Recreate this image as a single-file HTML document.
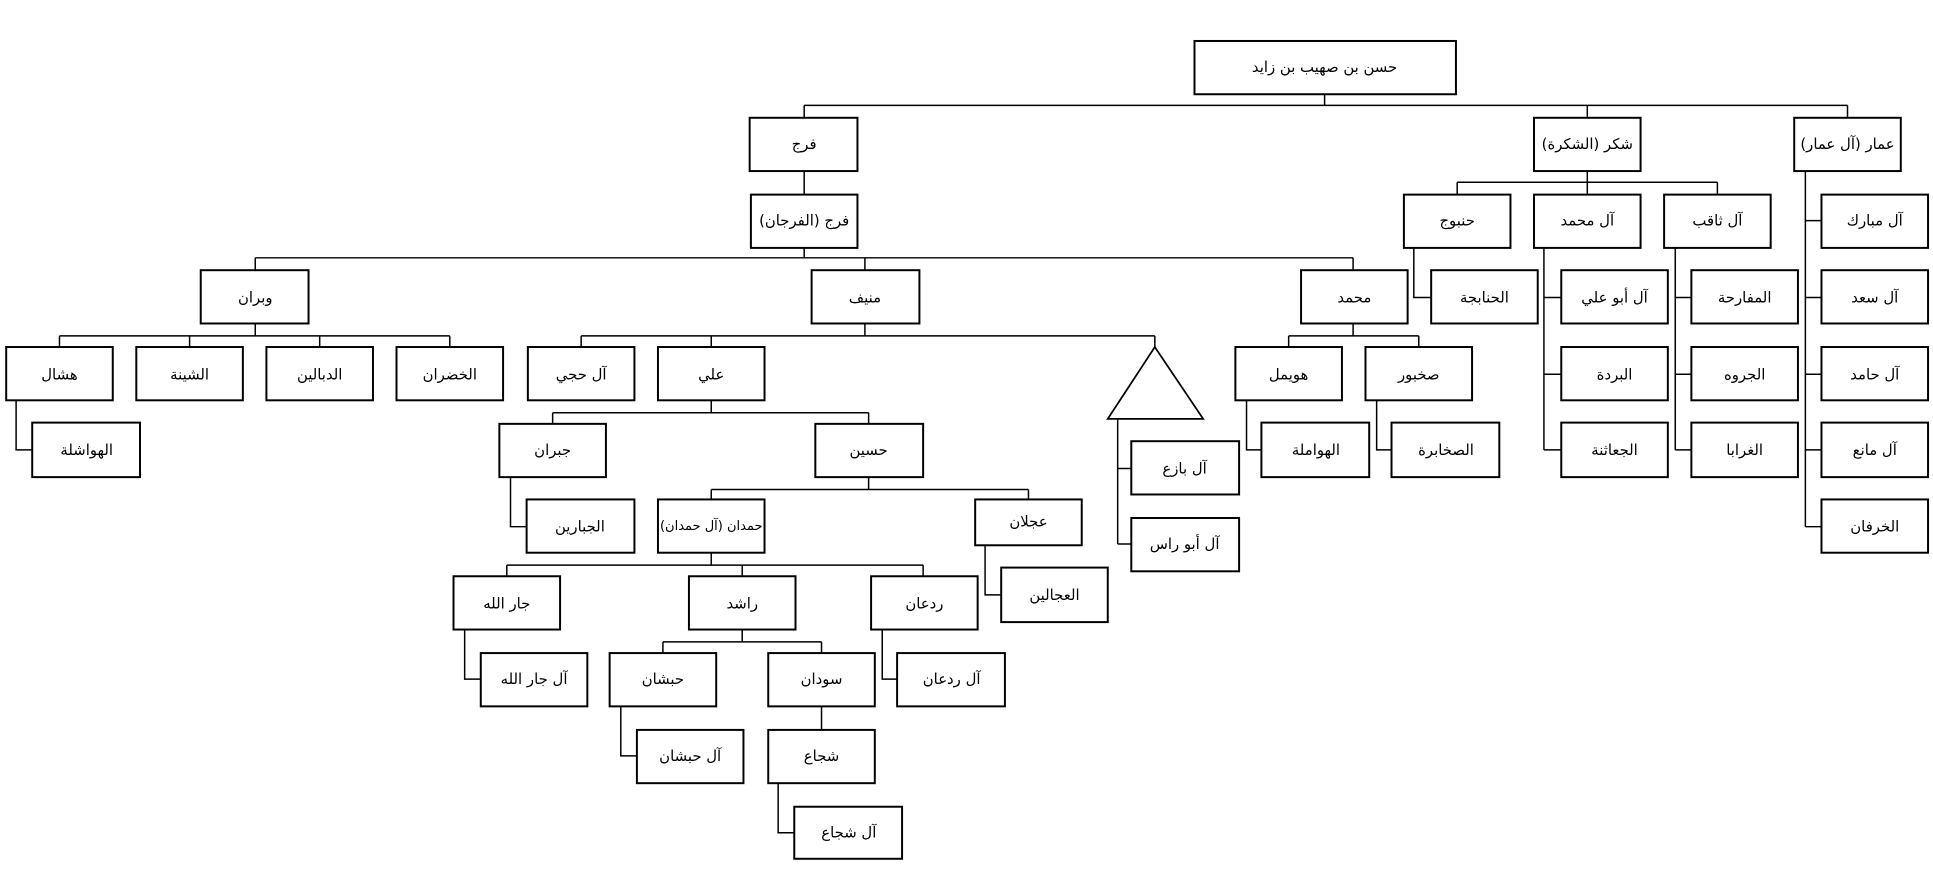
<!DOCTYPE html>
<html><head><meta charset="utf-8"><style>
html,body{margin:0;padding:0;background:#fff;}
svg{display:block}
text{font-family:"DejaVu Sans","Liberation Sans",sans-serif;font-size:12px;fill:#000;text-anchor:middle;dominant-baseline:central}
rect{fill:#fff;stroke:#000;stroke-width:1.6}
.l{stroke:#000;stroke-width:1.2;fill:none}
</style></head><body>
<svg width="1933" height="870" viewBox="0 0 1560 702" xmlns="http://www.w3.org/2000/svg">
<g class="l">
<path d="M1069 76V85M649 85H1491M649 85V95M1281 85V95M1491 85V95"/>
<path d="M649 138V157M649 200V208M206 208H1092M206 208V218M698 208V218M1092 208V218"/>
<path d="M206 261V271M48 271H363M48 271V280M153 271V280M258 271V280M363 271V280"/>
<path d="M13 323V363H26"/>
<path d="M698 261V271M469 271H932M469 271V280M574 271V280M932 271V280"/>
<path d="M902 338V439M902 378H913M902 439H913"/>
<path d="M574 323V333M446 333H701M446 333V342M701 333V342"/>
<path d="M412 385V425H425"/>
<path d="M701 385V395M574 395H830M574 395V403M830 395V403"/>
<path d="M795 440V480H808"/>
<path d="M574 446V456M409 456H745M409 456V465M599 456V465M745 456V465"/>
<path d="M375 508V548H388M712 508V548H724"/>
<path d="M599 508V518M535 518H663M535 518V527M663 518V527"/>
<path d="M501 570V610H514M663 570V589M628 632V672H641"/>
<path d="M1092 261V271M1040 271H1145M1040 271V280M1145 271V280"/>
<path d="M1006 323V363H1018M1111 323V363H1123"/>
<path d="M1281 138V147M1176 147H1386M1176 147V157M1281 147V157M1386 147V157"/>
<path d="M1141 200V240H1155"/>
<path d="M1246 200V363M1246 240H1260M1246 302H1260M1246 363H1260"/>
<path d="M1352 200V363M1352 240H1365M1352 302H1365M1352 363H1365"/>
<path d="M1457 138V425M1457 178H1470M1457 240H1470M1457 302H1470M1457 363H1470M1457 425H1470"/>
</g>
<polygon points="932,280 894,338 971,338" fill="#fff" stroke="#000" stroke-width="1.4"/>
<g>
<rect x="964" y="33" width="211" height="43"/><text x="1069" y="54">حسن بن صهيب بن زايد</text>
<rect x="605" y="95" width="87" height="43"/><text x="649" y="116">فرج</text>
<rect x="1238" y="95" width="86" height="43"/><text x="1281" y="116">شكر (الشكرة)</text>
<rect x="1448" y="95" width="86" height="43"/><text x="1491" y="116">عمار (آل عمار)</text>
<rect x="606" y="157" width="86" height="43"/><text x="649" y="178">فرج (الفرجان)</text>
<rect x="1133" y="157" width="86" height="43"/><text x="1176" y="178">حنبوج</text>
<rect x="1238" y="157" width="86" height="43"/><text x="1281" y="178">آل محمد</text>
<rect x="1343" y="157" width="86" height="43"/><text x="1386" y="178">آل ثاقب</text>
<rect x="1470" y="157" width="86" height="43"/><text x="1513" y="178">آل مبارك</text>
<rect x="162" y="218" width="87" height="43"/><text x="206" y="240">وبران</text>
<rect x="655" y="218" width="87" height="43"/><text x="698" y="240">منيف</text>
<rect x="1050" y="218" width="86" height="43"/><text x="1093" y="240">محمد</text>
<rect x="1155" y="218" width="86" height="43"/><text x="1198" y="240">الحنابجة</text>
<rect x="1260" y="218" width="86" height="43"/><text x="1303" y="240">آل أبو علي</text>
<rect x="1365" y="218" width="86" height="43"/><text x="1408" y="240">المفارحة</text>
<rect x="1470" y="218" width="86" height="43"/><text x="1513" y="240">آل سعد</text>
<rect x="5" y="280" width="86" height="43"/><text x="48" y="302">هشال</text>
<rect x="110" y="280" width="86" height="43"/><text x="153" y="302">الشينة</text>
<rect x="215" y="280" width="86" height="43"/><text x="258" y="302">الدبالين</text>
<rect x="320" y="280" width="86" height="43"/><text x="363" y="302">الخضران</text>
<rect x="426" y="280" width="86" height="43"/><text x="469" y="302">آل حجي</text>
<rect x="531" y="280" width="86" height="43"/><text x="574" y="302">علي</text>
<rect x="997" y="280" width="86" height="43"/><text x="1040" y="302">هويمل</text>
<rect x="1102" y="280" width="86" height="43"/><text x="1145" y="302">صخبور</text>
<rect x="1260" y="280" width="86" height="43"/><text x="1303" y="302">البردة</text>
<rect x="1365" y="280" width="86" height="43"/><text x="1408" y="302">الجروه</text>
<rect x="1470" y="280" width="86" height="43"/><text x="1513" y="302">آل حامد</text>
<rect x="26" y="341" width="87" height="44"/><text x="70" y="363">الهواشلة</text>
<rect x="403" y="342" width="86" height="43"/><text x="446" y="363">جبران</text>
<rect x="658" y="342" width="87" height="43"/><text x="701" y="363">حسين</text>
<rect x="913" y="356" width="87" height="43"/><text x="956" y="378">آل بازع</text>
<rect x="1018" y="341" width="87" height="44"/><text x="1062" y="363">الهواملة</text>
<rect x="1123" y="341" width="87" height="44"/><text x="1167" y="363">الصخابرة</text>
<rect x="1260" y="341" width="86" height="44"/><text x="1303" y="363">الجعاثنة</text>
<rect x="1365" y="341" width="86" height="44"/><text x="1408" y="363">الغرابا</text>
<rect x="1470" y="341" width="86" height="44"/><text x="1513" y="363">آل مانع</text>
<rect x="425" y="403" width="87" height="43"/><text x="468" y="425">الجبارين</text>
<rect x="531" y="403" width="86" height="43"/><text x="574" y="425" style="font-size:10.5px">حمدان (آل حمدان)</text>
<rect x="787" y="403" width="86" height="37"/><text x="830" y="421">عجلان</text>
<rect x="913" y="418" width="87" height="43"/><text x="956" y="439">آل أبو راس</text>
<rect x="1470" y="403" width="86" height="43"/><text x="1513" y="425">الخرفان</text>
<rect x="808" y="458" width="86" height="44"/><text x="851" y="480">العجالين</text>
<rect x="366" y="465" width="86" height="43"/><text x="409" y="487">جار الله</text>
<rect x="556" y="465" width="86" height="43"/><text x="599" y="487">راشد</text>
<rect x="703" y="465" width="86" height="43"/><text x="746" y="487">ردعان</text>
<rect x="388" y="527" width="86" height="43"/><text x="431" y="548">آل جار الله</text>
<rect x="492" y="527" width="86" height="43"/><text x="535" y="548">حبشان</text>
<rect x="620" y="527" width="86" height="43"/><text x="663" y="548">سودان</text>
<rect x="724" y="527" width="87" height="43"/><text x="768" y="548">آل ردعان</text>
<rect x="514" y="589" width="86" height="43"/><text x="557" y="610">آل حبشان</text>
<rect x="620" y="589" width="86" height="43"/><text x="663" y="610">شجاع</text>
<rect x="641" y="651" width="87" height="42"/><text x="685" y="672">آل شجاع</text>
</g>
</svg>
</body></html>
